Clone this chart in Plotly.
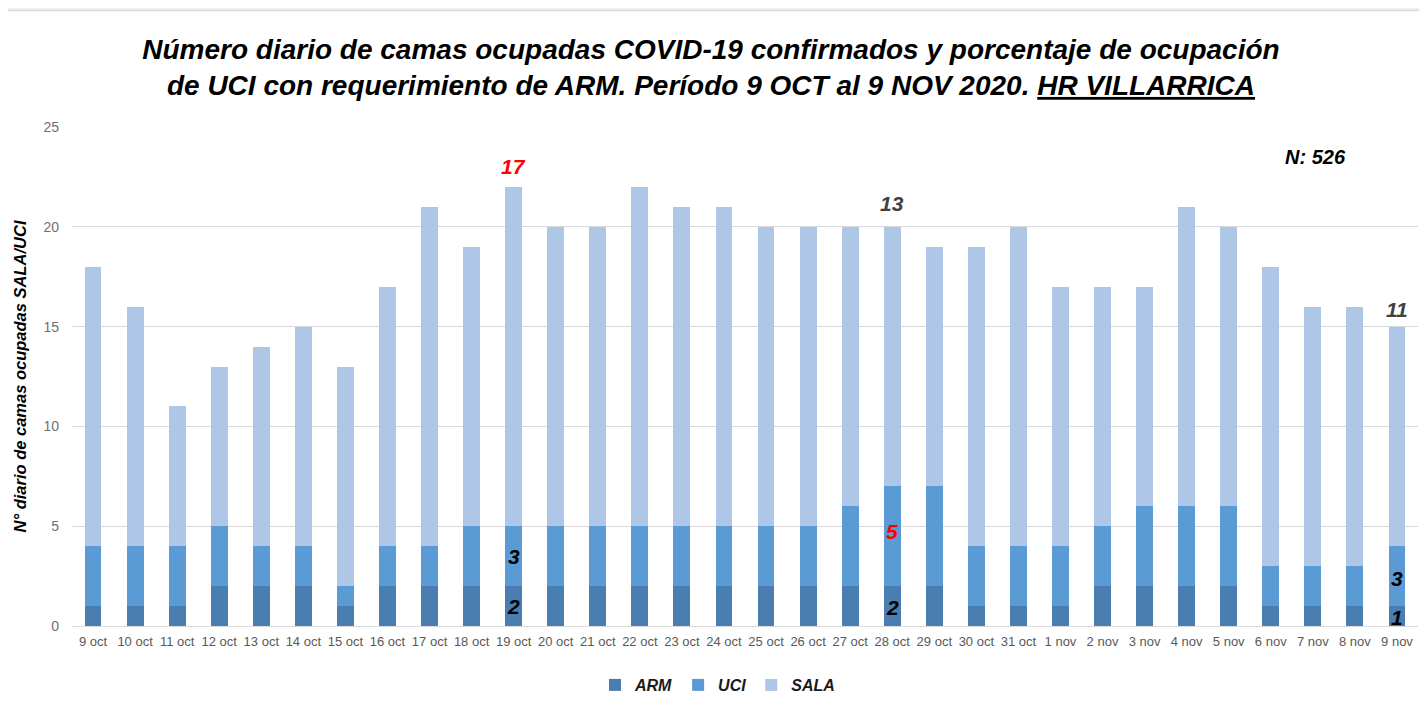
import plotly.graph_objects as go

categories = ["9 oct", "10 oct", "11 oct", "12 oct", "13 oct", "14 oct", "15 oct", "16 oct",
              "17 oct", "18 oct", "19 oct", "20 oct", "21 oct", "22 oct", "23 oct", "24 oct",
              "25 oct", "26 oct", "27 oct", "28 oct", "29 oct", "30 oct", "31 oct", "1 nov",
              "2 nov", "3 nov", "4 nov", "5 nov", "6 nov", "7 nov", "8 nov", "9 nov"]
arm = [1, 1, 1, 2, 2, 2, 1, 2, 2, 2, 2, 2, 2, 2, 2, 2,
       2, 2, 2, 2, 2, 1, 1, 1, 2, 2, 2, 2, 1, 1, 1, 1]
uci = [3, 3, 3, 3, 2, 2, 1, 2, 2, 3, 3, 3, 3, 3, 3, 3,
       3, 3, 4, 5, 5, 3, 3, 3, 3, 4, 4, 4, 2, 2, 2, 3]
sala = [14, 12, 7, 8, 10, 11, 11, 13, 17, 14, 17, 15, 15, 17, 16, 16,
        15, 15, 14, 13, 12, 15, 16, 13, 12, 11, 15, 14, 15, 13, 13, 11]
y_ticks = [0, 5, 10, 15, 20, 25]

# labelled values: (category, y position, text, colour)
labels = [("19 oct", 23.0, "17", "#ff0000"),
          ("19 oct", 3.5, "3", "#000000"),
          ("19 oct", 1.0, "2", "#000000"),
          ("28 oct", 21.15, "13", "#404040"),
          ("28 oct", 4.75, "5", "#ff0000"),
          ("28 oct", 0.95, "2", "#000000"),
          ("9 nov", 15.85, "11", "#404040"),
          ("9 nov", 2.4, "3", "#000000"),
          ("9 nov", 0.45, "1", "#000000")]

FONT = "Liberation Sans, Arial, sans-serif"

fig = go.Figure()
fig.add_trace(go.Bar(x=categories, y=arm, name="<b><i>ARM</i></b>",
                     marker=dict(color="#4a7db0", line=dict(width=0))))
fig.add_trace(go.Bar(x=categories, y=uci, name="<b><i>UCI</i></b>",
                     marker=dict(color="#5b9bd5", line=dict(width=0))))
fig.add_trace(go.Bar(x=categories, y=sala, name="<b><i>SALA</i></b>",
                     marker=dict(color="#aec7e6", line=dict(width=0))))

for cat, yv, txt, col in labels:
    fig.add_annotation(x=cat, y=yv, text="<b><i>%s</i></b>" % txt, showarrow=False,
                       xanchor="center", yanchor="middle",
                       font=dict(family=FONT, size=21, color=col))

fig.add_annotation(xref="paper", yref="paper", x=0.9235, y=0.94, text="<b><i>N: 526</i></b>",
                   showarrow=False, xanchor="center", yanchor="middle",
                   font=dict(family=FONT, size=20, color="#000000"))

# top frame strip
fig.add_shape(type="rect", xref="paper", yref="paper", x0=-0.05, x1=1.01, y0=1.2345, y1=1.24,
              fillcolor="#f0f0f0", line=dict(width=0), layer="below")
fig.add_shape(type="line", xref="paper", yref="paper", x0=-0.048, x1=1.01, y0=1.2335, y1=1.2335,
              line=dict(color="#d9d9d9", width=1.5), layer="below")

fig.update_layout(
    width=1419, height=702,
    margin=dict(l=64, r=9, t=119, b=84),
    paper_bgcolor="white", plot_bgcolor="white",
    barmode="stack", bargap=0.6,
    title=dict(text="<b><i>Número diario de camas ocupadas COVID-19 confirmados y porcentaje de ocupación<br>"
                    "de UCI con requerimiento de ARM. Período 9 OCT al 9 NOV 2020. <u>HR VILLARRICA</u></i></b>",
               x=0.4954, xanchor="center", y=0.928, yanchor="middle",
               font=dict(family=FONT, size=28, color="#000000")),
    xaxis=dict(categoryorder="array", categoryarray=categories,
               tickfont=dict(family=FONT, size=13, color="#595959"),
               showline=False, ticks="", ticklabelstandoff=6, tickangle=0, automargin=False),
    yaxis=dict(range=[0, 25], tickvals=y_ticks, showgrid=True, gridcolor="#d9d9d9", gridwidth=1.3,
               zeroline=True, zerolinecolor="#d9d9d9", zerolinewidth=1.3,
               tickfont=dict(family=FONT, size=14, color="#6f6f6f"),
               ticklabelstandoff=12, automargin=False,
               title=dict(text="<b><i>N° diario de camas ocupadas SALA/UCI</i></b>", standoff=12,
                          font=dict(family=FONT, size=16.5, color="#000000"))),
    legend=dict(orientation="h", xref="container", x=0.5, xanchor="center", yref="container",
                y=0.0356, yanchor="middle", traceorder="normal",
                font=dict(family=FONT, size=16, color="#1a1a1a"), itemwidth=30),
    showlegend=True,
)

fig.write_html("out.html")
